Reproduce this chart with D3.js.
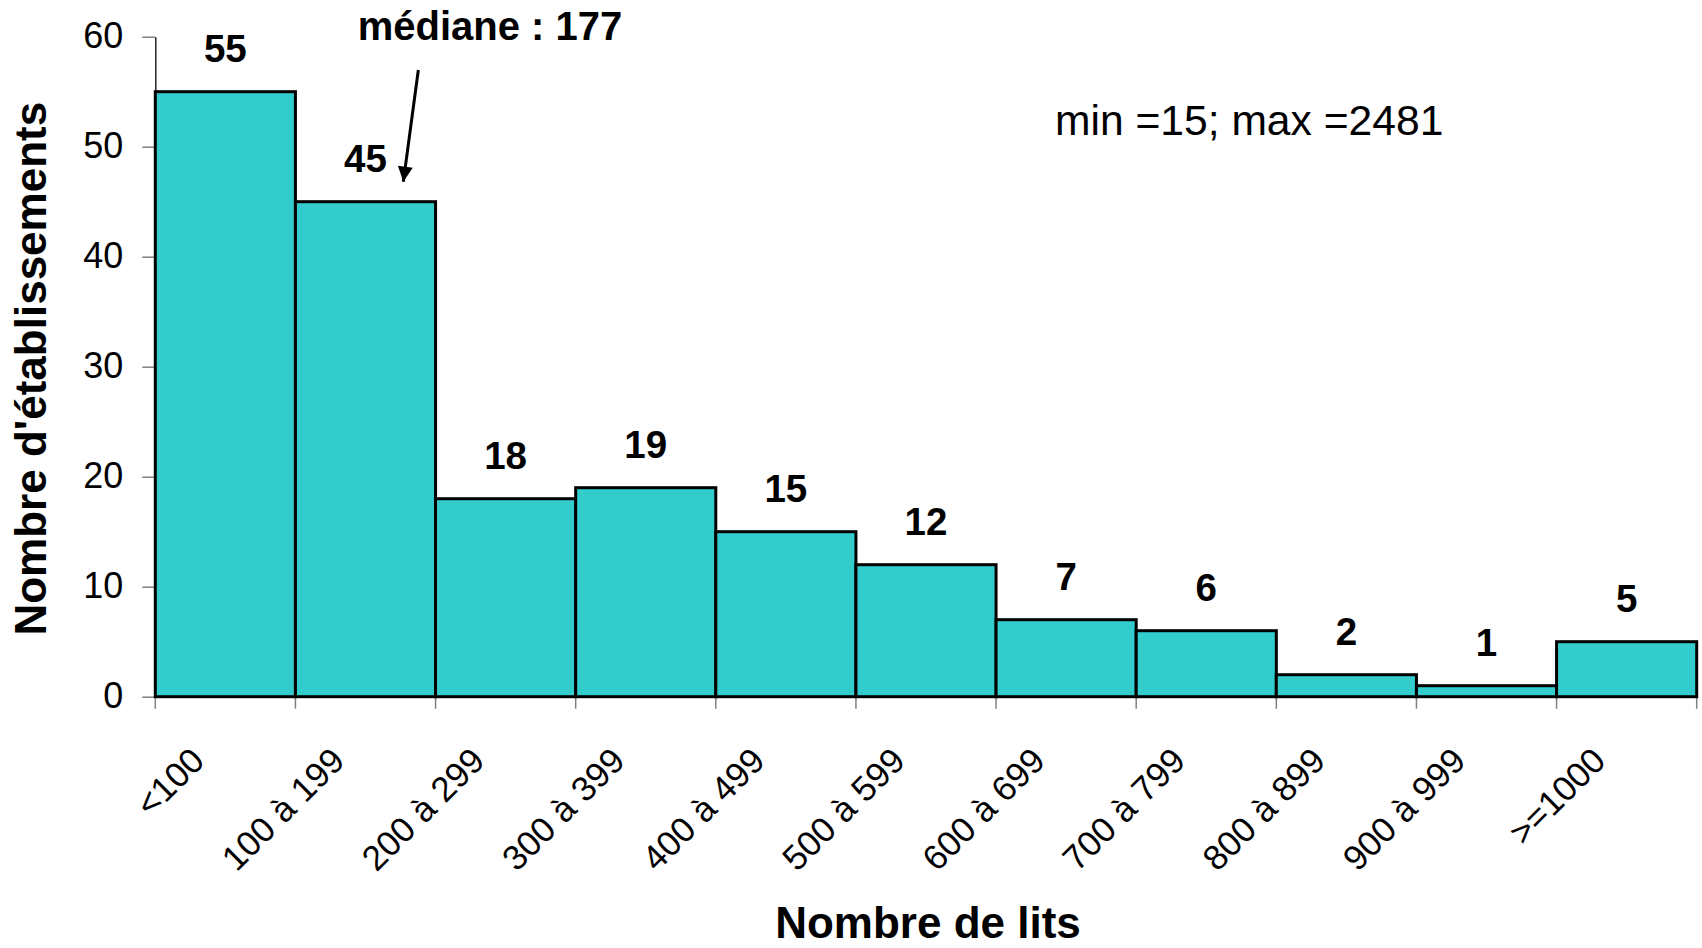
<!DOCTYPE html>
<html>
<head>
<meta charset="utf-8">
<script src="https://cdn.jsdelivr.net/npm/d3@7"></script>
<style>
  body { margin: 0; background: #fff; }
  svg { display: block; font-family: "Liberation Sans", Arial, sans-serif; }
</style>
</head>
<body>
<div id="chart"></div>
<script>
// classes de lits et effectifs
const categories = ["<100", "100 à 199", "200 à 299", "300 à 399", "400 à 499", "500 à 599",
    "600 à 699", "700 à 799", "800 à 899", "900 à 999", ">=1000"];
const counts = [55, 45, 18, 19, 15, 12, 7, 6, 2, 1, 5];
const yTicks = [0, 10, 20, 30, 40, 50, 60];
const median = 177;
const medianLabel = "médiane : 177";
const rangeLabel = "min =15; max =2481";

const width = 1702, height = 948;
const plotLeft = 155.3, plotRight = 1696.7, plotTop = 36.7, plotBottom = 696.7;

const svg = d3.select("#chart").append("svg")
    .attr("width", width)
    .attr("height", height);

const x = d3.scaleBand().domain(categories).range([plotLeft, plotRight]).padding(0);
// position continue (en lits) pour placer la médiane
const xLits = d3.scaleLinear().domain([0, categories.length * 100]).range([plotLeft, plotRight]);
const y = d3.scaleLinear().domain([0, 60]).range([plotBottom, plotTop]);

// axe Y
const yAxis = svg.append("g")
    .attr("transform", `translate(${plotLeft},0)`)
    .call(d3.axisLeft(y).tickValues(yTicks).tickSize(13).tickSizeOuter(0).tickPadding(19));
yAxis.select(".domain").attr("stroke", "#222").attr("stroke-width", 1.5);
yAxis.selectAll(".tick line").attr("stroke", "#808080").attr("stroke-width", 1.5);
yAxis.selectAll(".tick text")
    .attr("font-size", 36)
    .attr("fill", "#000")
    .attr("dy", "0.3em");

// graduations X aux limites des classes
const bounds = categories.map(c => x(c)).concat([plotRight]);
svg.append("g").selectAll("line")
    .data(bounds)
    .enter()
    .append("line")
    .attr("x1", d => d).attr("x2", d => d)
    .attr("y1", plotBottom).attr("y2", plotBottom + 12)
    .attr("stroke", "#808080")
    .attr("stroke-width", 1.5);

// barres
svg.append("g").selectAll("rect")
    .data(counts)
    .enter()
    .append("rect")
    .attr("x", (d, i) => x(categories[i]))
    .attr("y", d => y(d))
    .attr("width", x.bandwidth())
    .attr("height", d => plotBottom - y(d))
    .attr("fill", "#33CCCC")
    .attr("stroke", "#000")
    .attr("stroke-width", 3);

// valeurs au-dessus des barres
svg.append("g").selectAll("text")
    .data(counts)
    .enter()
    .append("text")
    .attr("x", (d, i) => x(categories[i]) + x.bandwidth() / 2)
    .attr("y", d => y(d) - 30)
    .attr("text-anchor", "middle")
    .attr("font-size", 38.5)
    .attr("font-weight", "bold")
    .text(d => d);

// libellés X inclinés
const xAxis = svg.append("g")
    .attr("transform", `translate(0,${plotBottom})`)
    .call(d3.axisBottom(x).tickSize(0));
xAxis.select(".domain").remove();
xAxis.selectAll(".tick text")
    .attr("font-size", 35)
    .attr("fill", "#000")
    .attr("text-anchor", "end")
    .attr("dy", null)
    .attr("y", null)
    .attr("transform", "translate(-19,66) rotate(-45)");

// titres des axes
svg.append("text")
    .attr("x", (plotLeft + plotRight) / 2 + 2)
    .attr("y", 938)
    .attr("text-anchor", "middle")
    .attr("font-size", 44)
    .attr("font-weight", "bold")
    .text("Nombre de lits");

svg.append("text")
    .attr("transform", `translate(46,${(plotTop + plotBottom) / 2 + 2}) rotate(-90)`)
    .attr("text-anchor", "middle")
    .attr("font-size", 44)
    .attr("font-weight", "bold")
    .text("Nombre d'établissements");

// annotation médiane
svg.append("defs").append("marker")
    .attr("id", "head")
    .attr("viewBox", "0 0 10 10")
    .attr("refX", 10).attr("refY", 5)
    .attr("markerWidth", 6).attr("markerHeight", 5)
    .attr("markerUnits", "strokeWidth")
    .attr("orient", "auto")
    .append("path")
    .attr("d", "M0,0L10,5L0,10z")
    .attr("fill", "#000");

const tipX = xLits(median), tipY = y(counts[1]) - 20;
svg.append("line")
    .attr("x1", tipX + 15).attr("y1", 70)
    .attr("x2", tipX).attr("y2", tipY)
    .attr("stroke", "#000")
    .attr("stroke-width", 3)
    .attr("marker-end", "url(#head)");

svg.append("text")
    .attr("x", 490)
    .attr("y", 40)
    .attr("text-anchor", "middle")
    .attr("font-size", 40)
    .attr("font-weight", "bold")
    .text(medianLabel);

svg.append("text")
    .attr("x", 1055)
    .attr("y", 135)
    .attr("font-size", 42.6)
    .text(rangeLabel);
</script>
</body>
</html>
